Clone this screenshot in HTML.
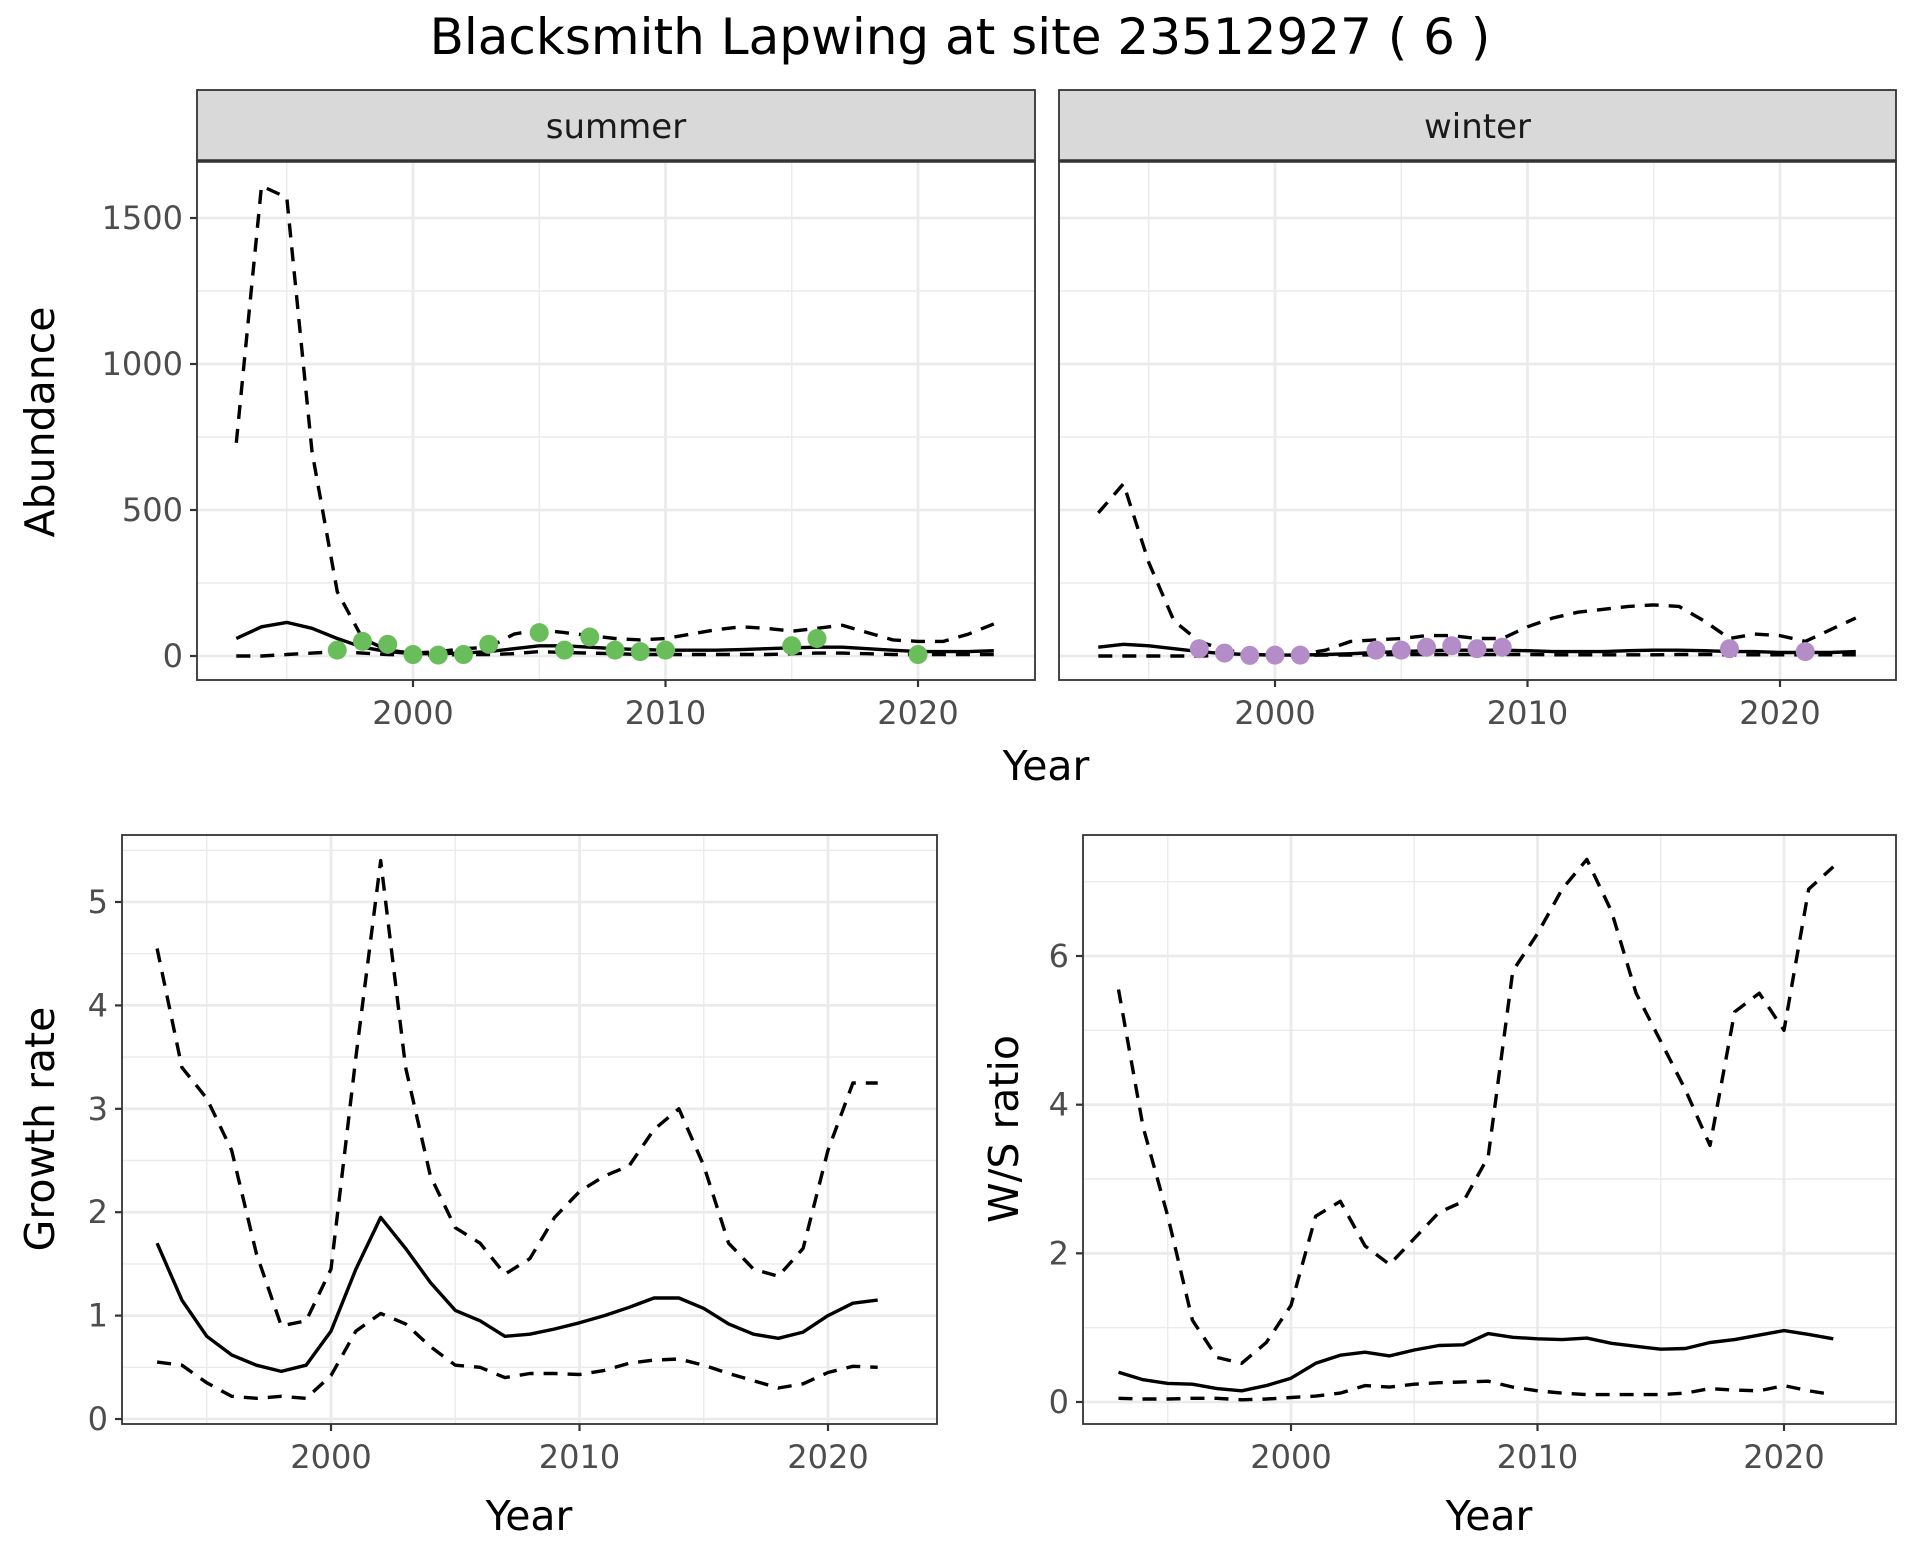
<!DOCTYPE html>
<html><head><meta charset="utf-8"><style>
html,body{margin:0;padding:0;background:#fff;}
svg{display:block;font-family:"DejaVu Sans","Liberation Sans",sans-serif;}
</style></head><body>
<svg id="chart" width="1920" height="1560" viewBox="0 0 1920 1560" xmlns="http://www.w3.org/2000/svg">
<text x="960" y="54" text-anchor="middle" font-size="50" fill="#000">Blacksmith Lapwing at site 23512927 ( 6 )</text>
<text transform="translate(54,422) rotate(-90)" text-anchor="middle" font-size="41" fill="#000">Abundance</text>
<text x="1046" y="780" text-anchor="middle" font-size="41" fill="#000">Year</text>
<text transform="translate(54,1129) rotate(-90)" text-anchor="middle" font-size="41" fill="#000">Growth rate</text>
<text x="529" y="1530" text-anchor="middle" font-size="41" fill="#000">Year</text>
<text transform="translate(1018,1129) rotate(-90)" text-anchor="middle" font-size="41" fill="#000">W/S ratio</text>
<text x="1489" y="1530" text-anchor="middle" font-size="41" fill="#000">Year</text>
</svg>
<script>
const absYears=[1993,1994,1995,1996,1997,1998,1999,2000,2001,2002,2003,2004,2005,2006,2007,2008,2009,2010,2011,2012,2013,2014,2015,2016,2017,2018,2019,2020,2021,2022,2023];
const sumUpper=[730,1610,1570,700,220,60,20,10,15,25,30,75,90,80,70,60,55,60,75,90,100,95,85,95,105,80,55,50,50,75,110];
const sumMean=[60,100,115,95,60,30,15,8,8,10,15,25,35,35,30,25,22,20,20,20,22,25,28,30,30,25,20,15,15,15,18];
const sumLower=[0,0,5,10,15,10,5,3,3,5,5,8,15,12,10,8,5,5,5,5,5,5,8,10,10,8,5,5,5,5,5];
const sumPtYears=[1997,1998,1999,2000,2001,2002,2003,2005,2006,2007,2008,2009,2010,2015,2016,2020];
const sumPtVals=[20,50,40,5,3,5,40,80,20,65,20,15,20,35,60,5];
const winUpper=[490,590,320,120,50,20,10,5,5,20,50,55,60,70,70,60,60,100,130,150,160,170,175,170,120,60,75,70,50,90,130];
const winMean=[30,40,35,25,15,8,5,3,3,5,8,12,15,18,20,20,20,18,15,15,15,18,20,20,18,15,15,12,12,12,15];
const winLower=[0,0,0,0,0,2,2,2,2,3,3,4,5,5,5,5,5,5,4,4,4,4,4,5,5,4,4,4,4,4,4];
const winPtYears=[1997,1998,1999,2000,2001,2004,2005,2006,2007,2008,2009,2018,2021];
const winPtVals=[25,10,2,3,3,20,20,30,35,25,30,25,15];
const rateYears=[1993,1994,1995,1996,1997,1998,1999,2000,2001,2002,2003,2004,2005,2006,2007,2008,2009,2010,2011,2012,2013,2014,2015,2016,2017,2018,2019,2020,2021,2022];
const grUpper=[4.55,3.4,3.1,2.6,1.6,0.9,0.95,1.45,3.5,5.4,3.4,2.35,1.85,1.7,1.4,1.55,1.95,2.2,2.35,2.45,2.8,3.0,2.45,1.7,1.45,1.38,1.65,2.6,3.25,3.25];
const grMean=[1.7,1.15,0.8,0.62,0.52,0.46,0.52,0.85,1.45,1.95,1.65,1.32,1.05,0.95,0.8,0.82,0.87,0.93,1.0,1.08,1.17,1.17,1.07,0.92,0.82,0.78,0.84,1.0,1.12,1.15];
const grLower=[0.55,0.52,0.35,0.22,0.2,0.22,0.2,0.42,0.85,1.02,0.92,0.7,0.52,0.5,0.4,0.44,0.44,0.43,0.47,0.54,0.57,0.58,0.52,0.44,0.37,0.3,0.34,0.45,0.51,0.5];
const wsUpper=[5.55,3.7,2.5,1.1,0.6,0.52,0.8,1.3,2.5,2.7,2.1,1.85,2.2,2.55,2.7,3.3,5.8,6.3,6.9,7.3,6.6,5.5,4.85,4.2,3.45,5.25,5.5,5.0,6.9,7.2];
const wsMean=[0.4,0.3,0.25,0.24,0.18,0.15,0.22,0.32,0.52,0.63,0.67,0.62,0.7,0.76,0.77,0.92,0.87,0.85,0.84,0.86,0.79,0.75,0.71,0.72,0.8,0.84,0.9,0.96,0.91,0.85];
const wsLower=[0.05,0.04,0.04,0.05,0.05,0.03,0.04,0.06,0.08,0.12,0.22,0.2,0.24,0.26,0.27,0.28,0.2,0.15,0.12,0.1,0.1,0.1,0.1,0.12,0.18,0.16,0.15,0.22,0.15,0.1];
const absTicks=[0,500,1000,1500];
const grTicks=[0,1,2,3,4,5];
const wsTicks=[0,2,4,6];
const xTicks=[2000,2010,2020];

const svg=document.getElementById('chart');
const NS='http://www.w3.org/2000/svg';
function mk(tag,attrs,parent){const e=document.createElementNS(NS,tag);for(const k in attrs)e.setAttribute(k,attrs[k]);(parent||svg).appendChild(e);return e;}

function panel(o){
  const g=mk('g',{});
  
  
  const sx=v=>o.xp[0]+(v-2000)/20*(o.xp[1]-o.xp[0]);
  const top=o.yt[o.yt.length-1];
  const sy=v=>o.yp[0]-v/top*(o.yp[0]-o.yp[1]);
  const step=o.yt[1]-o.yt[0];
  for(let i=-1;i<o.yt.length;i++){const y=sy(o.yt[0]+step*(i+0.5));if(y>o.y0&&y<o.y1)mk('line',{x1:o.x0,x2:o.x1,y1:y,y2:y,stroke:'#ebebeb','stroke-width':1.4},g);}
  [1990,1995,2005,2015,2025].forEach(v=>{const x=sx(v);if(x>o.x0&&x<o.x1)mk('line',{x1:x,x2:x,y1:o.y0,y2:o.y1,stroke:'#ebebeb','stroke-width':1.4},g);});
  o.yt.forEach(v=>{const y=sy(v);mk('line',{x1:o.x0,x2:o.x1,y1:y,y2:y,stroke:'#ebebeb','stroke-width':2.8},g);});
  xTicks.forEach(v=>{const x=sx(v);mk('line',{x1:x,x2:x,y1:o.y0,y2:o.y1,stroke:'#ebebeb','stroke-width':2.8},g);});
  const path=(xs,ys,dash,name)=>{const d=xs.map((x,i)=>(i?'L':'M')+sx(x).toFixed(1)+' '+sy(ys[i]).toFixed(1)).join(' ');
    const p=mk('path',{d:d,fill:'none',stroke:'#000','stroke-width':3.4,'stroke-linejoin':'round'},g);
    if(dash)p.setAttribute('stroke-dasharray','14 10');
    
    };
  path(o.xs,o.lo,true,'lower-bound-line');
  path(o.xs,o.up,true,'upper-bound-line');
  path(o.xs,o.mean,false,'mean-line');
  if(o.px){o.px.forEach((x,i)=>{const c=mk('circle',{cx:sx(x),cy:sy(o.pv[i]),r:9.5,fill:o.pc},g);
    
    });}
  mk('rect',{x:o.x0,y:o.y0,width:o.x1-o.x0,height:o.y1-o.y0,fill:'none',stroke:'#333','stroke-width':1.8},g);
  if(o.showY){o.yt.forEach(v=>{const y=sy(v);mk('line',{x1:o.x0-7,x2:o.x0,y1:y,y2:y,stroke:'#333','stroke-width':2.2},g);
    const t=mk('text',{x:o.x0-14,y:y+11,'text-anchor':'end','font-size':32,fill:'#4d4d4d'},g);t.textContent=v;
    
    });}
  xTicks.forEach(v=>{const x=sx(v);mk('line',{x1:x,x2:x,y1:o.y1,y2:o.y1+7,stroke:'#333','stroke-width':2.2},g);
    const t=mk('text',{x:x,y:o.y1+44,'text-anchor':'middle','font-size':32,fill:'#4d4d4d'},g);t.textContent=v;
    
    });
  if(o.strip){mk('rect',{x:o.x0,y:90,width:o.x1-o.x0,height:o.y0-90,fill:'#d9d9d9',stroke:'#333','stroke-width':1.8},g);
    mk('line',{x1:o.x0,x2:o.x1,y1:o.y0,y2:o.y0,stroke:'#333','stroke-width':3.4},g);
    const t=mk('text',{x:(o.x0+o.x1)/2,y:138,'text-anchor':'middle','font-size':34,fill:'#1a1a1a'},g);t.textContent=o.strip;
    
    }
}
panel({name:'summer-panel',x0:197,x1:1035,y0:161,y1:680,xp:[413,918],yp:[656,218],xs:absYears,up:sumUpper,mean:sumMean,lo:sumLower,px:sumPtYears,pv:sumPtVals,pc:'#6abd5b',yt:absTicks,showY:true,strip:'summer'});
panel({name:'winter-panel',x0:1059,x1:1896,y0:161,y1:680,xp:[1275,1780],yp:[656,218],xs:absYears,up:winUpper,mean:winMean,lo:winLower,px:winPtYears,pv:winPtVals,pc:'#b48cc8',yt:absTicks,showY:false,strip:'winter'});
panel({name:'growth-rate-panel',x0:122,x1:937,y0:835,y1:1424,xp:[331,828],yp:[1419,902],xs:rateYears,up:grUpper,mean:grMean,lo:grLower,yt:grTicks,showY:true});
panel({name:'ws-ratio-panel',x0:1083,x1:1896,y0:835,y1:1424,xp:[1291,1784],yp:[1402,956],xs:rateYears,up:wsUpper,mean:wsMean,lo:wsLower,yt:wsTicks,showY:true});
</script>
</body></html>
